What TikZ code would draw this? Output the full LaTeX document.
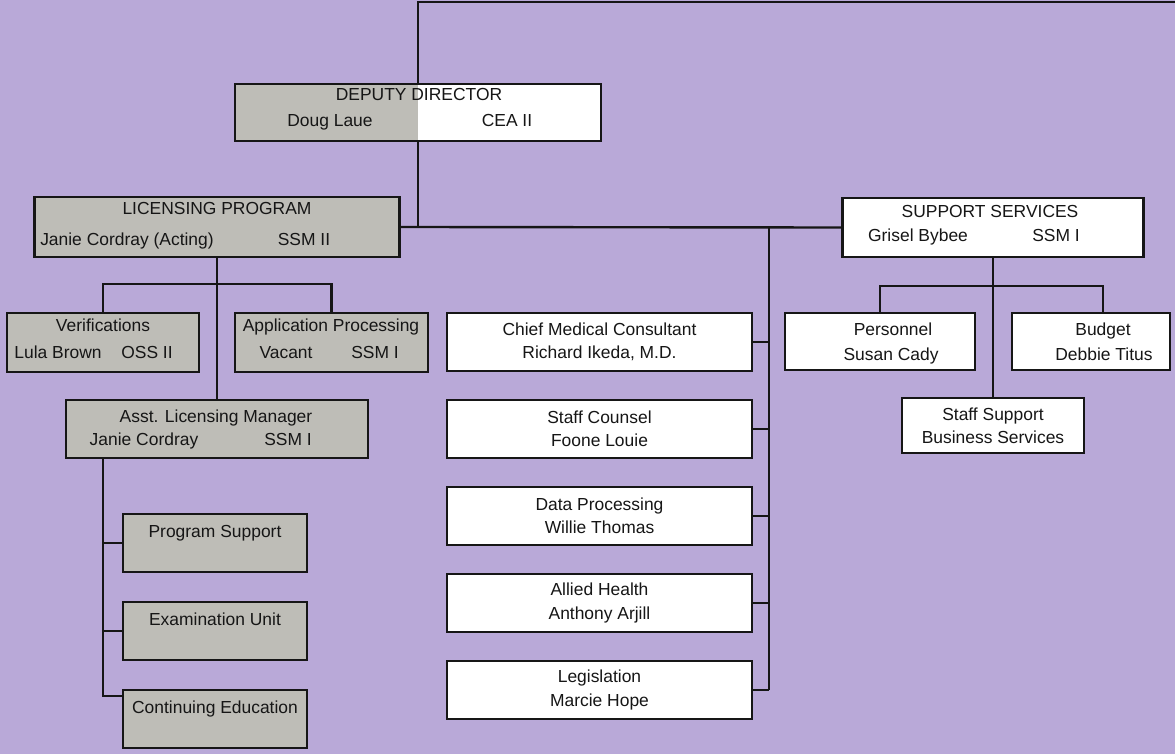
\documentclass[tikz,border=0pt]{standalone}
\usepackage{fontspec}
\setmainfont{Liberation Sans}
\usetikzlibrary{positioning,calc}
\definecolor{lilac}{HTML}{B9A9D8}
\definecolor{boxgray}{HTML}{BEBDB7}
\definecolor{ink}{HTML}{161616}
\newcommand{\orgfont}{\fontsize{12.4}{16.5}\selectfont}
\tikzset{
  graybox/.style={draw=ink,fill=boxgray,line width=1.7pt,inner sep=0pt},
  whitebox/.style={draw=ink,fill=white,line width=1.7pt,inner sep=0pt,
                   align=center,font=\orgfont,text=ink},
  lbl/.style={inner sep=0pt,anchor=base,font=\orgfont,text=ink},
  wire/.style={draw=ink,line width=1.7pt}
}
\begin{document}
\begin{tikzpicture}[x=0.025cm,y=-0.025cm]
    \fill[lilac] (0,0) rectangle (1175,754);
    \useasboundingbox (0,0) rectangle (1175,754);

    % deputy director
    \coordinate (topin) at (418,2);
    \coordinate (topright) at (1175,2);
    \node[whitebox,minimum width=9.15cm,minimum height=1.425cm,
      path picture={\fill[boxgray] (path picture bounding box.south west)
        rectangle (path picture bounding box.north);}] (dep) at (418,112.5) {};
    \node[lbl] (depT) at (419,101) {DEPUTY DIRECTOR};
    \node[lbl] (depN) at (330,127) {Doug Laue};
    \node[lbl] (depG) at (507,127) {CEA II};
    \draw[wire] (topright) -- (topin) -- (dep.north);

    % licensing program
    \node[graybox,minimum width=9.125cm,minimum height=1.5cm] (lic) at (217,227) {};
    \node[lbl] (licT) at (217,215) {LICENSING PROGRAM};
    \node[lbl] (licN) at (127,245) {Janie Cordray (Acting)};
    \node[lbl] (licG) at (304,245) {SSM II};

    % support services
    \node[whitebox,minimum width=7.525cm,minimum height=1.475cm] (sup) at (993,227.5) {};
    \node[lbl] (supT) at (990,218) {SUPPORT SERVICES};
    \node[lbl] (supN) at (918,242) {Grisel Bybee};
    \node[lbl] (supG) at (1056,242) {SSM I};

    \draw[wire] (dep.south) -- (dep.south |- lic.east);
    \draw[wire] (lic.east) -- (sup.west);

    % staff column
    \node[whitebox,minimum width=7.625cm,minimum height=1.45cm] (cmc) at (599.5,342)
      {Chief Medical Consultant\\Richard Ikeda, M.D.};
    \node[whitebox,minimum width=7.625cm,minimum height=1.45cm] (counsel) at (599.5,429)
      {Staff Counsel\\Foone Louie};
    \node[whitebox,minimum width=7.625cm,minimum height=1.45cm] (dataproc) at (599.5,516)
      {Data Processing\\Willie Thomas};
    \node[whitebox,minimum width=7.625cm,minimum height=1.45cm] (allied) at (599.5,603)
      {Allied Health\\Anthony Arjill};
    \node[whitebox,minimum width=7.625cm,minimum height=1.45cm] (legis) at (599.5,690)
      {Legislation\\Marcie Hope};
    \coordinate (spine) at (769,227);
    \draw[wire] (spine) -- (spine |- legis.east);
    \draw[wire] (cmc.east) -- (cmc.east -| spine);
    \draw[wire] (counsel.east) -- (counsel.east -| spine);
    \draw[wire] (dataproc.east) -- (dataproc.east -| spine);
    \draw[wire] (allied.east) -- (allied.east -| spine);
    \draw[wire] (legis.east) -- (legis.east -| spine);

    % licensing units
    \node[graybox,minimum width=4.8cm,minimum height=1.475cm] (verif) at (103,342.5) {};
    \node[lbl] (verifT) at (103,331) {Verifications};
    \node[lbl] (verifN) at (58,358) {Lula Brown};
    \node[lbl] (verifG) at (147,358) {OSS II};
    \node[graybox,minimum width=4.825cm,minimum height=1.475cm] (appr) at (331.5,342.5) {};
    \node[lbl] (apprT) at (331,331) {Application Processing};
    \node[lbl] (apprN) at (286,358) {Vacant};
    \node[lbl] (apprG) at (375,358) {SSM I};
    \draw[wire] (verif.north) -- ++(0,-28) -| (appr.north);

    \node[graybox,minimum width=7.55cm,minimum height=1.45cm] (asst) at (217,429) {};
    \node[lbl] (asstT) at (216,422) {Asst. Licensing Manager};
    \node[lbl] (asstN) at (144,445) {Janie Cordray};
    \node[lbl] (asstG) at (288,445) {SSM I};
    \draw[wire] (lic.south) -- (asst.north);

    \node[graybox,minimum width=4.6cm,minimum height=1.45cm] (prog) at (215,543) {};
    \node[lbl] (progT) at (215,537) {Program Support};
    \node[graybox,minimum width=4.6cm,minimum height=1.45cm] (exam) at (215,631) {};
    \node[lbl] (examT) at (215,625) {Examination Unit};
    \node[graybox,minimum width=4.6cm,minimum height=1.45cm] (cont) at (215,719) {};
    \node[lbl] (contT) at (215,713) {Continuing Education};
    \coordinate (asstfoot) at ([xshift=0.95cm]asst.south west);
    \draw[wire] (asstfoot) |- ([yshift=-0.175cm]cont.north west);
    \draw[wire] (asstfoot |- prog.west) -- (prog.west);
    \draw[wire] (asstfoot |- exam.west) -- (exam.west);

    % support units
    \node[whitebox,minimum width=4.75cm,minimum height=1.425cm] (pers) at (880,341.5) {};
    \node[lbl] (persT) at (893,335) {Personnel};
    \node[lbl] (persN) at (891,360) {Susan Cady};
    \node[whitebox,minimum width=3.95cm,minimum height=1.425cm] (bud) at (1091,341.5) {};
    \node[lbl] (budT) at (1103,335) {Budget};
    \node[lbl] (budN) at (1104,360) {Debbie Titus};
    \node[whitebox,minimum width=4.55cm,minimum height=1.375cm] (staff) at (993,425.5)
      {Staff Support\\Business Services};
    \draw[wire] (pers.north) -- ++(0,-26) -| ([xshift=0.3cm]bud.north);
    \draw[wire] (sup.south) -- (staff.north);
\end{tikzpicture}
\end{document}
